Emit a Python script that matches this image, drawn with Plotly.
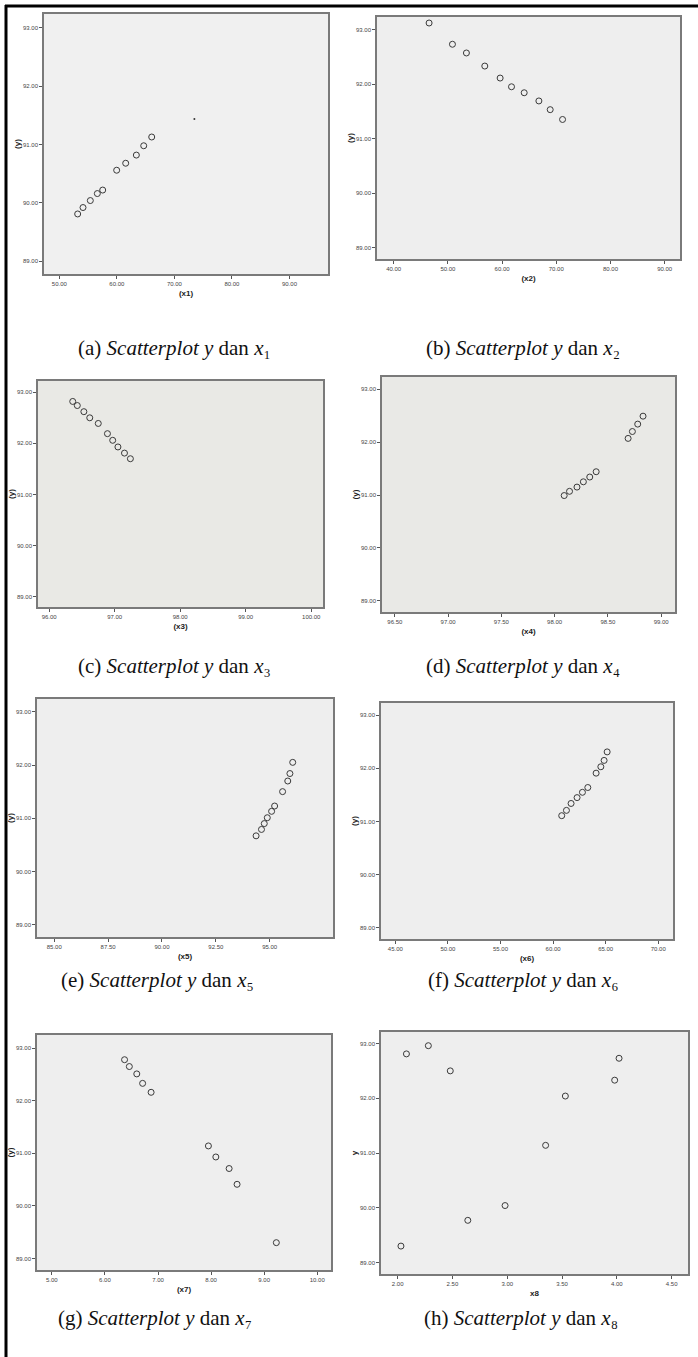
import plotly.graph_objects as go

W, H = 698, 1357

# ---- data ----
x1 = [53.19, 54.12, 55.39, 56.61, 57.54, 59.97, 61.54, 63.39, 64.67, 66.06]
y1 = [89.81, 89.92, 90.04, 90.16, 90.22, 90.56, 90.68, 90.82, 90.98, 91.13]
x1_dot = [73.48]
y1_dot = [91.44]
x2 = [46.53, 50.84, 53.42, 56.81, 59.64, 61.74, 64.08, 66.79, 68.88, 71.16]
y2 = [93.12, 92.73, 92.57, 92.33, 92.11, 91.95, 91.84, 91.69, 91.53, 91.35]
x3 = [96.36, 96.43, 96.53, 96.62, 96.75, 96.89, 96.97, 97.05, 97.15, 97.24]
y3 = [92.82, 92.74, 92.62, 92.50, 92.39, 92.19, 92.06, 91.93, 91.81, 91.70]
x4 = [98.09, 98.14, 98.21, 98.27, 98.33, 98.39, 98.69, 98.73, 98.78, 98.83]
y4 = [90.99, 91.07, 91.15, 91.25, 91.34, 91.44, 92.07, 92.20, 92.34, 92.49]
x5 = [94.37, 94.62, 94.75, 94.89, 95.09, 95.23, 95.60, 95.84, 95.94, 96.07]
y5 = [90.67, 90.79, 90.90, 91.01, 91.13, 91.23, 91.50, 91.70, 91.84, 92.05]
x6 = [60.82, 61.27, 61.71, 62.28, 62.79, 63.30, 64.09, 64.54, 64.85, 65.14]
y6 = [91.11, 91.21, 91.34, 91.45, 91.55, 91.64, 91.91, 92.03, 92.15, 92.31]
x7 = [6.37, 6.46, 6.60, 6.71, 6.87, 7.95, 8.09, 8.34, 8.49, 9.23]
y7 = [92.78, 92.65, 92.51, 92.33, 92.16, 91.14, 90.93, 90.71, 90.41, 89.30]
x8 = [2.08, 2.28, 2.48, 2.03, 2.64, 2.98, 3.35, 3.53, 3.98, 4.02]
y8 = [92.81, 92.96, 92.50, 89.30, 89.77, 90.04, 91.14, 92.04, 92.33, 92.73]

y_ticks = [89, 90, 91, 92, 93]
x_ticks = [
    [50, 60, 70, 80, 90],
    [40, 50, 60, 70, 80, 90],
    [96, 97, 98, 99, 100],
    [96.5, 97, 97.5, 98, 98.5, 99],
    [85, 87.5, 90, 92.5, 95],
    [45, 50, 55, 60, 65, 70],
    [5, 6, 7, 8, 9, 10],
    [2, 2.5, 3, 3.5, 4, 4.5],
]
x_titles = ["(x1)", "(x2)", "(x3)", "(x4)", "(x5)", "(x6)", "(x7)", "x8"]
y_titles = ["(y)"] * 7 + ["y"]
letters = ["a", "b", "c", "d", "e", "f", "g", "h"]
subs = ["₁", "₂", "₃", "₄", "₅", "₆", "₇", "₈"]
xs = [x1, x2, x3, x4, x5, x6, x7, x8]
ys = [y1, y2, y3, y4, y5, y6, y7, y8]

# ---- layout geometry (pixels) ----
boxes = [  # left, top, right, bottom
    (44, 14, 328, 274),
    (377, 17, 680, 259),
    (38, 381, 323, 607),
    (382, 377, 675, 612),
    (37, 699, 333, 937),
    (381, 703, 673, 939),
    (37, 1035, 331, 1270),
    (381, 1032, 688, 1274),
]
x_ranges = [
    (47.34, 96.7), (36.92, 92.83), (95.83, 100.18), (96.38, 99.13),
    (84.20, 97.94), (43.64, 71.40), (4.72, 10.26), (1.848, 4.649),
]
y_ranges = [
    (88.78, 93.24), (88.79, 93.23), (88.80, 93.22), (88.79, 93.23),
    (88.77, 93.24), (88.79, 93.23), (88.78, 93.25), (88.79, 93.21),
]
bg_colors = ["#F0F0F0", "#EEEEEE", "#E9E9E5", "#E9E9E6",
             "#EEEEEE", "#EEEEEE", "#EEEEEE", "#EEEEEE"]
captions_xy = [(174, 348), (523, 348), (174, 666), (523, 666),
               (157, 980), (523, 980), (155, 1318), (521, 1318)]

fig = go.Figure()
layout = dict(
    width=W, height=H,
    margin=dict(l=0, r=0, t=0, b=0),
    paper_bgcolor="white",
    plot_bgcolor="rgba(0,0,0,0)",
    showlegend=False,
    font=dict(family="Liberation Sans, Arial", color="#333"),
)
shapes = []
annotations = []

for i in range(8):
    n = "" if i == 0 else str(i + 1)
    xa, ya = "x" + n, "y" + n
    l, t, r, b = boxes[i]
    fig.add_trace(go.Scatter(
        x=xs[i], y=ys[i], mode="markers", xaxis=xa, yaxis=ya,
        marker=dict(symbol="circle-open", size=6,
                    line=dict(width=1, color="#3a3a3a"), color="#3a3a3a"),
        hoverinfo="x+y",
    ))
    layout["xaxis" + n] = dict(
        domain=[l / W, r / W], anchor=ya, range=list(x_ranges[i]),
        tickvals=x_ticks[i], tickformat=".2f",
        ticks="outside", ticklen=3, tickcolor="#555", tickwidth=1,
        tickfont=dict(size=6, color="#444"),
        showline=True, linecolor="#7a7a7a", linewidth=1.5, mirror=True,
        showgrid=False, zeroline=False,
        title=dict(text=x_titles[i], standoff=4,
                   font=dict(size=8, color="#222", weight="bold")),
    )
    layout["yaxis" + n] = dict(
        domain=[1 - b / H, 1 - t / H], anchor=xa, range=list(y_ranges[i]),
        tickvals=y_ticks, tickformat=".2f",
        ticks="outside", ticklen=3, tickcolor="#555", tickwidth=1,
        tickfont=dict(size=6, color="#444"),
        showline=True, linecolor="#7a7a7a", linewidth=1.5, mirror=True,
        showgrid=False, zeroline=False,
        title=dict(text=y_titles[i], standoff=1,
                   font=dict(size=8, color="#222", weight="bold")),
    )
    shapes.append(dict(type="rect", xref=xa + " domain", yref=ya + " domain",
                       x0=0, x1=1, y0=0, y1=1, layer="below",
                       fillcolor=bg_colors[i], line=dict(width=0)))
    cx, cy = captions_xy[i]
    annotations.append(dict(
        x=cx / W, y=1 - cy / H, xref="paper", yref="paper",
        xanchor="center", yanchor="middle", showarrow=False,
        text="(" + letters[i] + ") <i>Scatterplot y</i> dan <i>x</i>" + subs[i],
        font=dict(family="Liberation Serif, Times New Roman", size=21, color="#111"),
    ))

# stray tiny dot in panel (a)
fig.add_trace(go.Scatter(x=x1_dot, y=y1_dot, mode="markers", xaxis="x", yaxis="y",
                         marker=dict(size=2, color="#333"), hoverinfo="x+y"))

# page border lines (top and left)
shapes.append(dict(type="line", xref="paper", yref="paper",
                   x0=5 / W, x1=1, y0=1 - 6 / H, y1=1 - 6 / H,
                   line=dict(color="black", width=3)))
shapes.append(dict(type="line", xref="paper", yref="paper",
                   x0=6 / W, x1=6 / W, y0=0, y1=1 - 5 / H,
                   line=dict(color="black", width=3)))

layout["shapes"] = shapes
layout["annotations"] = annotations
fig.update_layout(**layout)
fig.write_html("out.html",
               config={"displayModeBar": False},
               post_script="document.body.style.margin='0';document.body.style.padding='0';")
